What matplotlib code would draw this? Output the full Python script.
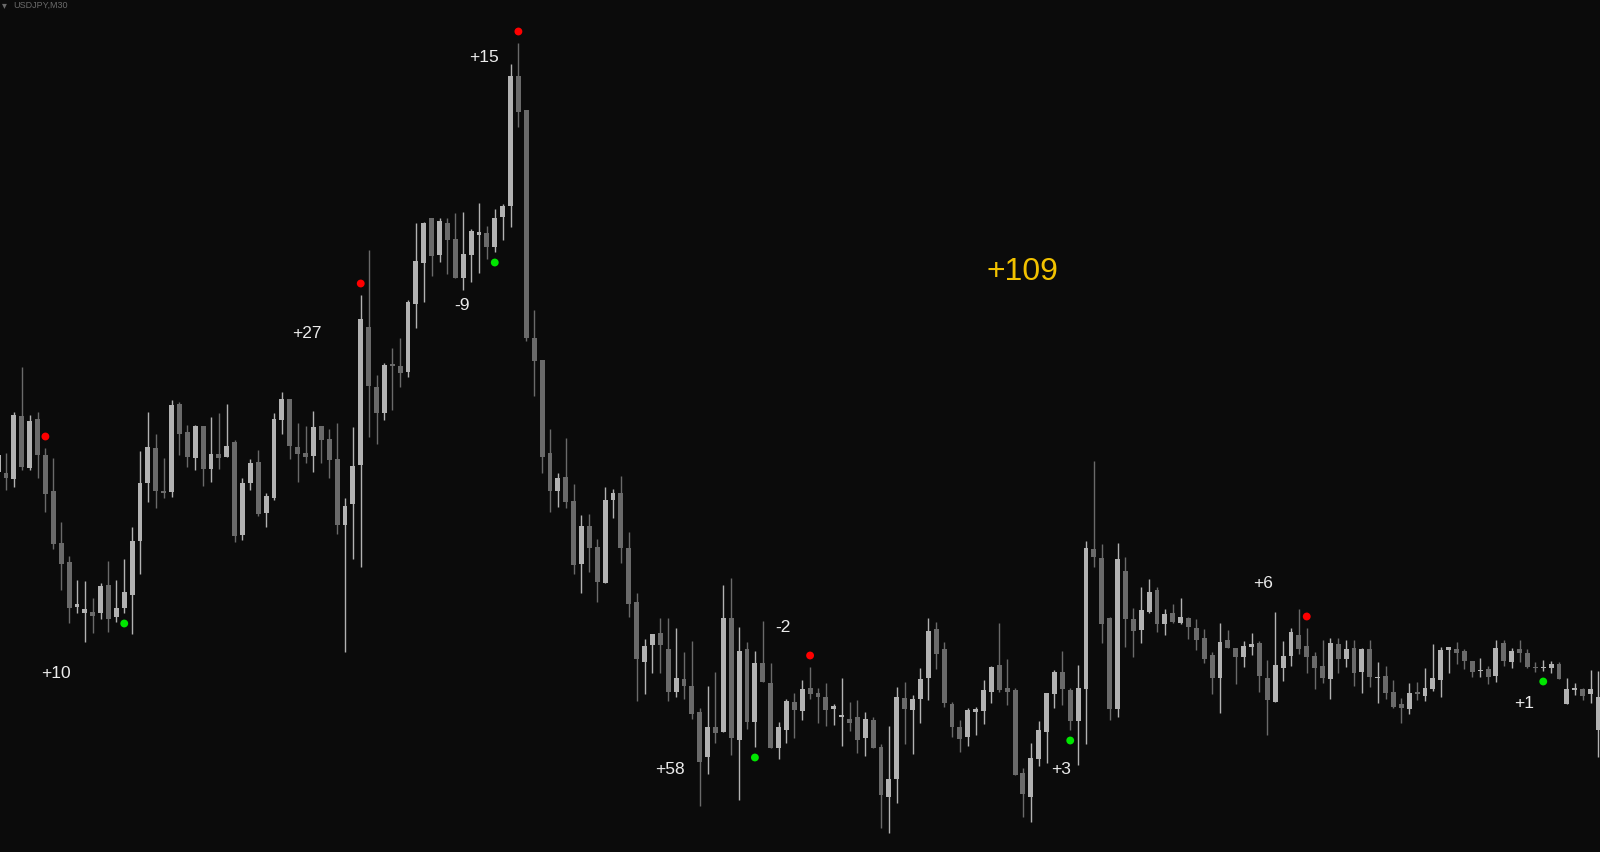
import matplotlib.pyplot as plt
import numpy as np

# USDJPY M30, price in chart points (1 point = 1 px of the original chart)
first_bar = -1

opens = [
    528, 527, 521, 584, 532, 581, 545, 509, 457, 438,
    393, 387, 388, 387, 415, 383, 392, 405, 459, 517,
    552, 509, 508, 596, 568, 542,
    574, 531, 546, 543, 558, 465, 517, 538, 487, 502,
    580, 601, 553, 547, 544, 574, 561, 541, 475, 496,
    535, 673, 613, 587, 636, 634, 628, 696, 737, 782,
    745, 777, 761, 722, 745, 765, 767, 753, 783, 794,
    924, 890, 662, 640, 547, 509, 523, 499, 436, 474,
    453, 417, 500, 507, 452, 398, 338, 355, 367, 351,
    308, 321, 314, 288, 243, 273, 268, 382, 260, 351,
    278, 337, 317, 252, 270, 298, 289, 312, 307, 303,
    291, 283, 281, 283, 262, 280, 253, 203, 221, 302,
    290, 301, 322, 371, 351, 296, 273, 263, 288, 289,
    308, 335, 312, 310, 227, 203, 241, 268, 306, 328,
    310, 279, 311, 451, 442, 382, 291, 429, 381, 370,
    388, 410, 376, 387, 377, 382, 372, 362, 345, 322,
    360, 352, 343, 353, 357, 322, 298, 332, 344, 365,
    354, 344, 334, 321, 356, 341, 352, 328, 351, 322,
    324, 308, 296, 291, 308, 304, 311, 320, 350, 351,
    349, 339, 329, 331, 324, 357, 338, 351, 347, 333,
    332, 332, 336, 296, 310, 311, 306, 270,
]
closes = [
    545, 522, 585, 533, 579, 545, 506, 456, 436, 392,
    396, 391, 384, 414, 381, 392, 408, 459, 517, 553,
    509, 507, 595, 566, 543, 574,
    531, 546, 542, 554, 464, 517, 537, 486, 504, 581,
    601, 554, 546, 543, 573, 560, 540, 475, 494, 534,
    681, 614, 587, 635, 634, 627, 698, 739, 777, 744,
    779, 760, 722, 746, 769, 768, 753, 782, 794, 924,
    888, 662, 639, 543, 509, 522, 498, 435, 474, 452,
    418, 500, 507, 452, 396, 341, 354, 366, 355, 308,
    322, 314, 286, 238, 273, 267, 382, 262, 349, 278,
    337, 318, 252, 273, 299, 290, 311, 306, 303, 290,
    294, 285, 277, 260, 281, 252, 205, 221, 303, 291,
    301, 321, 369, 346, 297, 273, 261, 290, 291, 310,
    333, 310, 308, 225, 206, 242, 270, 307, 328, 311,
    279, 312, 452, 443, 376, 291, 441, 381, 369, 390,
    408, 376, 386, 378, 383, 373, 360, 341, 322, 358,
    352, 343, 354, 356, 324, 300, 335, 344, 368, 351,
    343, 332, 322, 357, 341, 351, 327, 351, 323, 323,
    307, 293, 292, 307, 306, 312, 322, 350, 353, 347,
    339, 328, 330, 323, 352, 339, 349, 347, 333, 332,
    333, 336, 321, 311, 312, 304, 311, 303,
]
highs = [
    548, 547, 588, 633, 585, 588, 552, 542, 478, 444,
    420, 419, 402, 417, 439, 420, 441, 473, 549, 588,
    566, 542, 600, 598, 575, 575,
    574, 583, 587, 596, 560, 522, 541, 550, 507, 587,
    608, 601, 577, 574, 589, 574, 571, 577, 502, 573,
    705, 750, 625, 637, 652, 662, 700, 777, 778, 782,
    782, 782, 787, 788, 771, 797, 774, 791, 796, 936,
    957, 890, 690, 640, 571, 527, 562, 516, 485, 486,
    461, 513, 511, 524, 468, 407, 361, 366, 382, 382,
    372, 348, 359, 292, 314, 328, 415, 422, 373, 358,
    349, 379, 337, 278, 301, 307, 320, 333, 312, 317,
    296, 322, 298, 300, 288, 283, 256, 274, 313, 318,
    305, 332, 382, 378, 358, 298, 280, 292, 293, 320,
    334, 377, 341, 312, 232, 257, 279, 307, 330, 349,
    312, 335, 459, 539, 456, 383, 457, 443, 392, 413,
    421, 413, 391, 396, 402, 383, 381, 371, 348, 377,
    370, 352, 359, 367, 359, 340, 388, 359, 372, 391,
    372, 348, 360, 362, 362, 360, 360, 352, 360, 338,
    334, 320, 302, 317, 318, 332, 356, 353, 353, 358,
    351, 339, 342, 334, 360, 360, 352, 360, 351, 338,
    340, 339, 338, 322, 317, 312, 330, 329,
]
lows = [
    525, 510, 513, 530, 530, 522, 488, 451, 410, 377,
    387, 358, 367, 381, 368, 378, 387, 366, 426, 498,
    492, 502, 503, 545, 533, 530,
    514, 518, 531, 543, 458, 460, 510, 484, 473, 500,
    566, 541, 518, 537, 528, 537, 522, 466, 348, 441,
    433, 563, 556, 580, 590, 613, 623, 672, 698, 724,
    738, 726, 722, 710, 718, 727, 741, 748, 760, 773,
    873, 659, 604, 527, 488, 493, 492, 426, 407, 428,
    398, 417, 482, 437, 383, 299, 306, 327, 327, 299,
    303, 301, 281, 194, 226, 257, 268, 245, 200, 271,
    253, 318, 252, 241, 257, 262, 280, 301, 277, 274,
    275, 254, 269, 247, 244, 252, 172, 167, 197, 256,
    246, 277, 300, 331, 293, 263, 248, 254, 265, 276,
    297, 308, 295, 225, 183, 178, 234, 237, 292, 295,
    270, 235, 256, 433, 357, 280, 283, 353, 343, 357,
    387, 368, 365, 377, 376, 361, 350, 337, 306, 287,
    352, 316, 333, 345, 308, 265, 298, 319, 334, 346,
    327, 311, 317, 301, 327, 333, 314, 307, 313, 297,
    301, 292, 277, 286, 300, 299, 309, 303, 327, 336,
    331, 323, 323, 316, 318, 334, 332, 338, 332, 328,
    329, 327, 321, 296, 305, 300, 297, 243,
]

# signal dots (bar index)
sell_bars = [5, 45, 65, 102, 165]
buy_bars = [15, 62, 95, 135, 195]

# trade results: text, bar position, price
result_labels = ["+10", "+27", "-9", "+15", "-2", "+58", "+3", "+6", "+1"]
result_x = [6.34, 38.2, 57.8, 60.6, 98.5, 84.2, 133.8, 159.5, 192.6]
result_y = [326, 667, 694, 943, 373, 231, 231, 417, 296]
total_label = "+109"
total_x = 128.95
total_y = 728.5

bg = "#0b0b0b"
up_color = "#b2b2b2"
down_color = "#6a6a6a"

o = np.array(opens, dtype=float)
c = np.array(closes, dtype=float)
h = np.array(highs, dtype=float)
l = np.array(lows, dtype=float)
x = np.arange(first_bar, first_bar + len(o))
colors = np.where(c >= o, up_color, down_color)

fig = plt.figure(figsize=(16, 8.52), dpi=100, facecolor=bg)
ax = fig.add_axes([0, 0, 1, 1])
ax.set_facecolor(bg)
ax.axis("off")

ax.vlines(x, l, h, colors=colors, linewidth=1.0, zorder=1)
body_low = np.minimum(o, c)
body_h = np.maximum(np.abs(c - o), 1.3)
ax.bar(x, body_h, bottom=body_low, width=0.62, color=colors, linewidth=0, zorder=2)

sell_idx = np.array(sell_bars) - first_bar
buy_idx = np.array(buy_bars) - first_bar
ax.scatter(sell_bars, h[sell_idx] + 11.5, s=32, color="#ff0000", edgecolors="none", zorder=3)
ax.scatter(buy_bars, l[buy_idx] - 10.5, s=32, color="#00e600", edgecolors="none", zorder=3)

for txt, tx, ty in zip(result_labels, result_x, result_y):
    ax.text(tx, ty, txt, color="#ececec", fontsize=12.5, family="Liberation Sans",
            ha="center", va="center", zorder=4)
ax.text(total_x, total_y, total_label, color="#f2c200", fontsize=23,
        family="Liberation Sans", ha="center", va="center", zorder=4)

ax.set_xlim(-0.761, 202.2)
ax.set_ylim(148, 1000)

fig.text(0.0015, 0.9935, "\u25BE", color="#6a6a6a", fontsize=7, ha="left", va="center")
fig.text(0.0085, 0.9935, "USDJPY,M30", color="#6a6a6a", fontsize=6.5,
         family="Liberation Sans", ha="left", va="center")

plt.savefig("out.png", dpi=100, facecolor=bg)
